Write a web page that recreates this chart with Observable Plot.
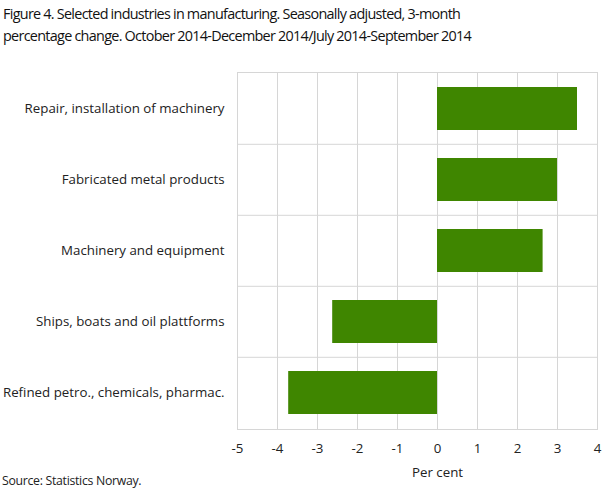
<!DOCTYPE html>
<html><head><meta charset="utf-8">
<script src="https://cdn.jsdelivr.net/npm/d3@7"></script>
<script src="https://cdn.jsdelivr.net/npm/@observablehq/plot@0.6"></script>
<style>
html,body{margin:0;background:#fff;font-family:"Open Sans",sans-serif;color:#222;overflow:hidden;}
#title{position:absolute;left:3px;top:3px;font-size:14.4px;line-height:22px;letter-spacing:-0.7px;word-spacing:-0.2px;color:#111;white-space:nowrap;}
#chart{position:absolute;left:0;top:58px;}
#chart svg{max-width:none;}
#source{position:absolute;left:2px;top:472px;font-size:12.3px;letter-spacing:-0.3px;color:#222;white-space:nowrap;}
</style></head><body>
<div id="title">Figure 4. Selected industries in manufacturing. Seasonally adjusted, 3-month<br>percentage change. October 2014-December 2014/July 2014-September 2014</div>
<div id="chart"></div>
<div id="source">Source: Statistics Norway.</div>
<script>
const categories = ["Repair, installation of machinery","Fabricated metal products","Machinery and equipment","Ships, boats and oil plattforms","Refined petro., chemicals, pharmac."];
const values = [3.5, 3.0, 2.64, -2.62, -3.72];
const xTicks = [-5,-4,-3,-2,-1,0,1,2,3,4];
const data = categories.map((c,i)=>({category:c, value:values[i]}));
const sep = categories.slice(1);
const H = 428, mT = 14, mB = 57;
const step = (H - mT - mB) / categories.length;
const plot = Plot.plot({
  width: 609, height: H,
  marginLeft: 237, marginRight: 12, marginTop: mT, marginBottom: mB,
  style: {fontFamily: "Open Sans", fontSize: "13.3px", color: "#222", background: "transparent"},
  x: {domain: [-5, 4], label: null},
  y: {domain: categories, paddingInner: 0.4, paddingOuter: 0.2, label: null, tickSize: 0, tickPadding: 13},
  marks: [
    Plot.gridX(xTicks, {stroke: "#d6d6d6", strokeOpacity: 1}),
    Plot.tickY(sep, {y: d => d, dy: -step / 2, stroke: "#d6d6d6"}),
    Plot.frame({stroke: "#d6d6d6"}),
    Plot.barX(data, {x: "value", y: "category", fill: "#3f8600"}),
    Plot.axisX(xTicks, {tickSize: 0, tickPadding: 14, label: null, tickFormat: d => String(d)}),
    Plot.text(["Per cent"], {frameAnchor: "bottom", x: 0, dy: 47, fontSize: 13.3, fill: "#222"})
  ]
});
document.getElementById("chart").appendChild(plot);
</script>
</body></html>
